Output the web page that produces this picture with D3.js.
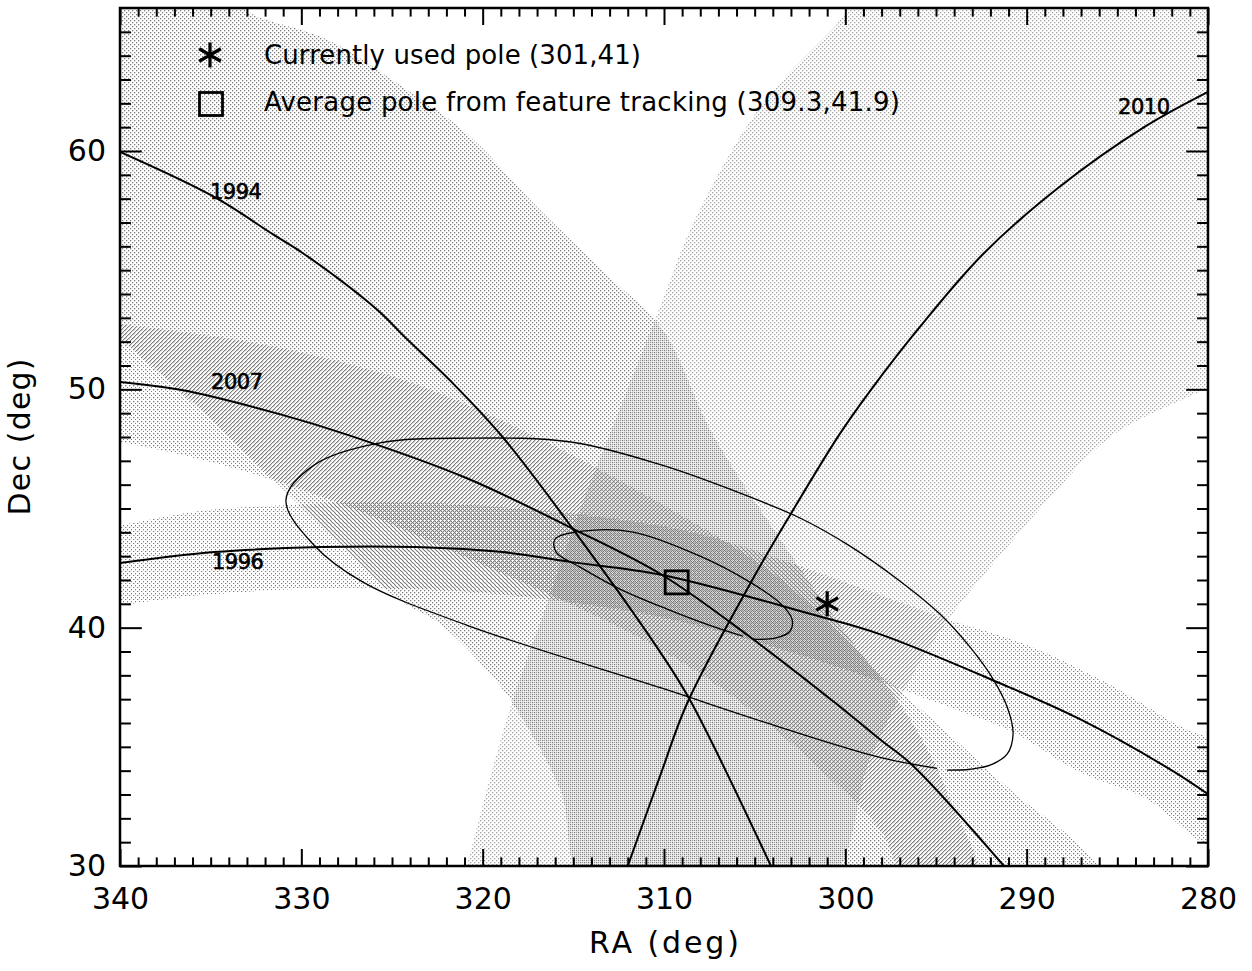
<!DOCTYPE html>
<html>
<head>
<meta charset="utf-8">
<script src="https://cdn.jsdelivr.net/npm/d3@7"></script>
<style>
  body { margin: 0; background: #fff; }
  svg { display: block; font-family: "DejaVu Sans", sans-serif; }
</style>
</head>
<body>
<div id="chart"></div>
<script>
// pole solutions [RA, Dec] for each epoch
var track1994 = [[340.0,59.96],[334.8,58.07],[331.6,56.52],[329.85,55.68],[325.8,53.33],[324.3,52.20],[321.6,50.22],[318.9,48.00],[314.9,44.01],[310.1,38.85],[308.5,36.87],[304.1,30.0]]
var track2007 = [[340.0,50.31],[336.6,49.97],[331.2,48.96],[327.4,48.08],[320.9,46.28],[315.1,44.18],[310.1,42.21],[305.4,39.69],[300.6,36.87],[298.1,35.32],[296.3,34.23],[291.25,30.0]]
var track1996 = [[340.0,42.71],[334.8,43.17],[328.9,43.38],[323.7,43.38],[318.9,43.17],[315.1,42.75],[310.1,42.21],[301.7,40.53],[298.1,39.73],[291.6,37.71],[287.06,36.16],[281.93,33.98],[280.0,33.01]]
var track2010 = [[312.0,30.0],[310.2,33.81],[308.7,36.87],[305.2,41.91],[303.05,44.72],[300.35,48.08],[298.6,49.97],[295.9,52.61],[292.4,55.68],[288.2,58.49],[283.5,61.01],[280.0,62.48]]

// spread of solutions around each track (outline, RA/Dec)
var band1994 = [[341.1,67.22],[333.93,67.22],[333.33,66.05],[328.53,64.66],[324.67,62.82],[320.86,60.72],[317.0,57.65],[313.2,54.84],[310.11,52.53],[307.3,48.08],[303.6,43.71],[299.74,39.52],[296.43,36.16],[294.23,32.8],[292.85,29.02],
  [314.08,29.02],[315.73,33.22],[318.38,36.87],[319.87,38.3],[322.35,40.15],[324.67,41.2],[326.76,42.67],[330.62,45.52],[335.59,49.17],[340.0,52.11],[341.1,52.74]]
var band2007 = [[341.1,52.87],[340.0,52.74],[332.28,51.9],[324.56,50.43],[317.94,48.33],[310.11,45.18],[303.6,42.04],[298.64,38.47],[294.39,35.61],[290.75,33.09],[287.06,30.83],[285.4,29.02],
  [296.16,29.02],[298.09,31.54],[301.4,34.06],[305.26,36.58],[310.22,39.1],[315.73,41.2],[320.7,42.88],[325.66,44.55],[331.01,46.07],[335.59,47.07],[340.0,47.79],[341.1,47.91]]
var band1996 = [[341.1,44.22],[340.0,44.3],[335.59,44.89],[331.01,45.14],[324.56,45.27],[319.04,45.06],[313.53,44.64],[308.01,43.92],[301.73,42.37],[294.39,40.36],[289.81,39.22],[285.24,37.54],[281.54,35.86],[278.23,34.61],
  [278.23,30.2],[280.6,31.12],[283.36,32.8],[287.06,33.93],[290.75,35.61],[294.39,36.7],[301.73,38.68],[310.11,40.44],[317.94,41.32],[323.46,41.62],[328.53,41.66],[335.59,41.36],[340.0,40.94],[341.1,40.86]]
var band2010 = [[298.09,67.22],[299.74,66.05],[300.46,65.33],[304.7,61.85],[308.4,56.94],[310.22,53.45],[312.43,49.17],[314.63,44.97],[316.56,40.78],[318.38,36.87],[319.7,33.39],[320.86,30.03],[321.25,29.02],
  [301.4,29.02],[298.64,34.48],[296.43,37.84],[294.39,40.27],[291.63,42.88],[288.93,45.27],[285.24,48.08],[279.89,50.1],[278.23,50.77],[278.23,67.22]]

// error ellipses (traced outlines, open where the original leaves a gap)
var ellipseOuter = [[294.39,34.02],[293.12,34.06],[292.02,34.23],[291.08,34.69],[290.75,35.53],[291.03,36.58],[291.85,37.84],[293.12,39.18],[294.78,40.57],[296.98,41.95],[299.74,43.42],[302.5,44.6],[306.36,45.81],[310.11,46.82],[315.13,47.79],[320.86,47.95],[325.66,47.75],[329.3,46.82],[330.85,45.35],[329.3,43.46],[326.6,41.91],[320.86,40.1],[310.11,37.46],[304.43,36.03],[298.09,34.56],[294.94,34.1]]
var ellipseInner = [[305.09,39.52],[303.88,39.56],[303.05,39.85],[302.94,40.36],[303.6,41.03],[305.26,41.91],[308.01,43.0],[311.71,44.01],[314.47,44.05],[316.01,43.71],[315.95,43.17],[314.63,42.54],[312.43,41.62],[309.83,40.78],[307.19,40.02],[305.64,39.64]]

var currentPole = [301, 41]
var averagePole = [309.3, 41.9]

var raTicks = [340, 330, 320, 310, 300, 290, 280]
var decTicks = [30, 40, 50, 60]

var trackLabels = [
  {text: '1994', at: [335.04, 58.0]},
  {text: '2007', at: [334.98, 50.01]},
  {text: '1996', at: [334.93, 42.46]},
  {text: '2010', at: [284.96, 61.55]}
]

var margin = {top: 8, right: 44, bottom: 105, left: 120},
  width = 1252 - margin.left - margin.right,
  height = 971 - margin.top - margin.bottom

var x = d3.scaleLinear().domain([340, 280]).range([0, width])
var y = d3.scaleLinear().domain([30, 66]).range([height, 0])

var svg = d3.select('#chart').append('svg')
  .attr('width', 1252)
  .attr('height', 971)

var defs = svg.append('defs')
defs.append('clipPath').attr('id', 'plot-clip')
  .append('rect').attr('width', width).attr('height', height)

// dot stipple for the solution clouds, each offset so overlaps get darker
var stipples = [
  {id: 'st2010', fill: '#a2a2a2', offs: [[0, 0], [2, 2]]},
  {id: 'st1994', fill: '#7c7c7c', offs: [[2, 0], [0, 2]]},
  {id: 'st2007', fill: '#7c7c7c', offs: [[1, 1], [3, 3]]},
  {id: 'st1996', fill: '#7c7c7c', offs: [[3, 1], [1, 3]]}
]
stipples.forEach(function (s) {
  var p = defs.append('pattern')
    .attr('id', s.id)
    .attr('patternUnits', 'userSpaceOnUse')
    .attr('width', 4).attr('height', 4)
  s.offs.forEach(function (o) {
    p.append('rect').attr('x', o[0]).attr('y', o[1])
      .attr('width', 1.3).attr('height', 1.3).attr('fill', s.fill)
  })
})

var g = svg.append('g')
  .attr('transform', 'translate(' + margin.left + ',' + margin.top + ')')

var plot = g.append('g').attr('clip-path', 'url(#plot-clip)')

var area = d3.line()
  .x(d => x(d[0])).y(d => y(d[1]))
  .curve(d3.curveCatmullRomClosed.alpha(0.5))

var bands = [[band2010, 'st2010'], [band1994, 'st1994'], [band2007, 'st2007'], [band1996, 'st1996']]
plot.selectAll('path.band')
  .data(bands)
  .enter()
  .append('path')
    .attr('class', 'band')
    .attr('d', d => area(d[0]))
    .attr('fill', d => 'url(#' + d[1] + ')')

var line = d3.line()
  .x(d => x(d[0])).y(d => y(d[1]))
  .curve(d3.curveCatmullRom.alpha(0.5))

plot.selectAll('path.ellipse')
  .data([ellipseOuter, ellipseInner])
  .enter()
  .append('path')
    .attr('class', 'ellipse')
    .attr('d', line)
    .attr('fill', 'none')
    .attr('stroke', '#000')
    .attr('stroke-width', 1.3)

plot.selectAll('path.track')
  .data([track1994, track2007, track1996, track2010])
  .enter()
  .append('path')
    .attr('class', 'track')
    .attr('d', line)
    .attr('fill', 'none')
    .attr('stroke', '#000')
    .attr('stroke-width', 2)

plot.selectAll('text.year')
  .data(trackLabels)
  .enter()
  .append('text')
    .attr('class', 'year')
    .attr('x', d => x(d.at[0]))
    .attr('y', d => y(d.at[1]))
    .attr('font-size', 21)
    .attr('stroke', '#000')
    .attr('stroke-width', 0.6)
    .attr('textLength', 52)
    .text(d => d.text)

function asterisk(sel, cx, cy, r) {
  var u = r * 0.866, t = r / 2
  sel.append('path')
    .attr('d', 'M' + cx + ',' + (cy - r) + 'V' + (cy + r) +
      'M' + (cx - u) + ',' + (cy - t) + 'L' + (cx + u) + ',' + (cy + t) +
      'M' + (cx - u) + ',' + (cy + t) + 'L' + (cx + u) + ',' + (cy - t))
    .attr('stroke', '#000')
    .attr('stroke-width', 3.2)
    .attr('fill', 'none')
}

function square(sel, cx, cy, s) {
  sel.append('rect')
    .attr('x', cx - s / 2).attr('y', cy - s / 2)
    .attr('width', s).attr('height', s)
    .attr('fill', 'none')
    .attr('stroke', '#000')
    .attr('stroke-width', 2.8)
}

asterisk(plot, x(currentPole[0]), y(currentPole[1]), 12.5)
square(plot, x(averagePole[0]), y(averagePole[1]), 23)

// legend
var legend = g.append('g')
asterisk(legend, 90, 47, 12.5)
square(legend, 91, 96, 23)
legend.append('text').attr('x', 144).attr('y', 56)
  .attr('font-size', 26).attr('textLength', 377)
  .text('Currently used pole (301,41)')
legend.append('text').attr('x', 144).attr('y', 103)
  .attr('font-size', 26).attr('textLength', 636)
  .text('Average pole from feature tracking (309.3,41.9)')

// axes
var fmt = d3.format('d')
function styleAxis(sel) {
  sel.select('.domain').remove()
  sel.selectAll('line').attr('stroke', '#000').attr('stroke-width', 2)
  sel.selectAll('text').attr('font-size', 30).attr('font-family', '"DejaVu Sans", sans-serif').attr('fill', '#000')
}

g.append('g').attr('transform', 'translate(0,' + height + ')')
  .call(d3.axisBottom(x).tickValues(raTicks).tickSize(-17).tickPadding(22).tickFormat(fmt))
  .call(styleAxis)
g.append('g').attr('transform', 'translate(0,' + height + ')')
  .call(d3.axisBottom(x).tickValues(d3.range(281, 340).filter(v => v % 10)).tickSize(-8.6).tickFormat(''))
  .call(styleAxis)
g.append('g')
  .call(d3.axisTop(x).tickValues(raTicks).tickSize(-17).tickFormat(''))
  .call(styleAxis)
g.append('g')
  .call(d3.axisTop(x).tickValues(d3.range(281, 340).filter(v => v % 10)).tickSize(-8.6).tickFormat(''))
  .call(styleAxis)

g.append('g')
  .call(d3.axisLeft(y).tickValues(decTicks).tickSize(-21.8).tickPadding(14).tickFormat(fmt))
  .call(styleAxis)
g.append('g')
  .call(d3.axisLeft(y).tickValues(d3.range(31, 66).filter(v => v % 10)).tickSize(-10.9).tickFormat(''))
  .call(styleAxis)
g.append('g').attr('transform', 'translate(' + width + ',0)')
  .call(d3.axisRight(y).tickValues(decTicks).tickSize(-21.8).tickFormat(''))
  .call(styleAxis)
g.append('g').attr('transform', 'translate(' + width + ',0)')
  .call(d3.axisRight(y).tickValues(d3.range(31, 66).filter(v => v % 10)).tickSize(-10.9).tickFormat(''))
  .call(styleAxis)

g.append('rect')
  .attr('width', width).attr('height', height)
  .attr('fill', 'none')
  .attr('stroke', '#000')
  .attr('stroke-width', 2.5)

g.append('text')
  .attr('x', width / 2).attr('y', height + 87)
  .attr('text-anchor', 'middle')
  .attr('font-size', 30)
  .attr('textLength', 150)
  .text('RA (deg)')

g.append('text')
  .attr('transform', 'translate(' + (-90) + ',' + (height / 2) + ') rotate(-90)')
  .attr('text-anchor', 'middle')
  .attr('font-size', 30)
  .attr('textLength', 157)
  .text('Dec (deg)')
</script>
</body>
</html>
